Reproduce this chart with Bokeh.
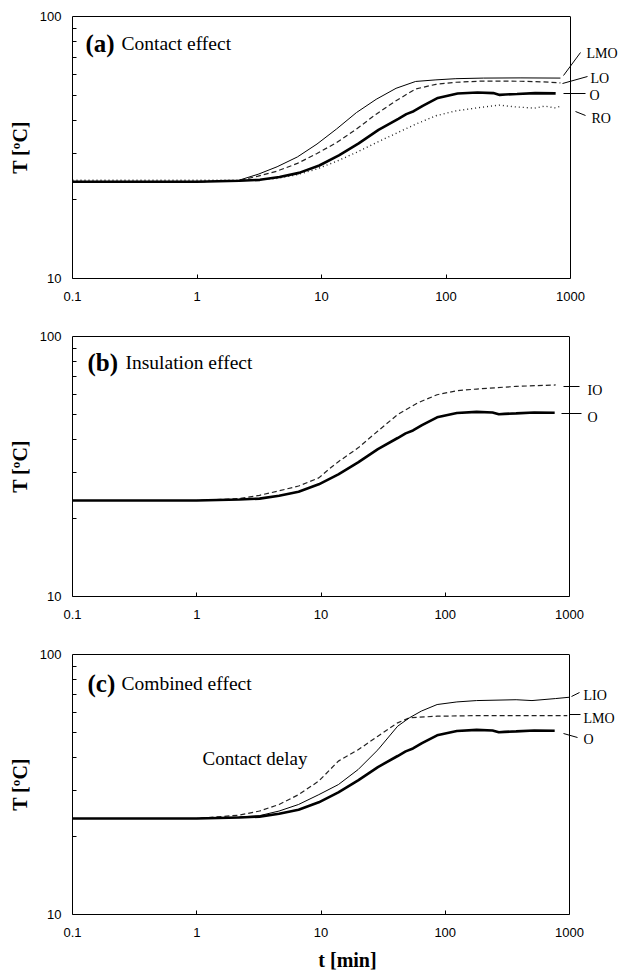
from bokeh.plotting import figure
from bokeh.layouts import column
from bokeh.models import FixedTicker, Label, Arrow, Range1d, Span, LogAxis
from bokeh.embed import file_html
from bokeh.resources import INLINE

# ---------------- data ----------------
xticks = [0.1, 1, 10, 100, 1000]
xtick_labels = ["0.1", "1", "10", "100", "1000"]
yticks = [10, 100]
ytick_labels = ["10", "100"]
yminor = [20, 30, 40, 50, 60, 70, 80, 90]

# O (reference case), used in all panels
t_O = [0.1, 1.0, 2.2, 3.2, 4.6, 6.6, 9.6, 13.8, 19.9, 28.7, 41.4, 48, 55, 65, 86, 124, 179, 240, 270, 300, 372, 520, 760]
T_O = [23.4, 23.4, 23.6, 23.8, 24.4, 25.3, 27.0, 29.5, 32.8, 36.9, 40.7, 42.4, 43.5, 45.6, 48.9, 50.8, 51.3, 51.0, 50.2, 50.4, 50.6, 51.0, 50.9]

# panel (a) contact effect
t_LMO_a = [0.1, 1.0, 2.1, 3.1, 4.4, 6.4, 9.2, 13.2, 19.1, 27.5, 39.7, 57, 83, 120, 200, 400, 830]
T_LMO_a = [23.4, 23.4, 23.6, 25.0, 26.7, 29.1, 32.6, 37.2, 43.0, 48.3, 53.2, 56.5, 57.3, 57.9, 58.2, 58.3, 58.2]
t_LO = [0.1, 1.0, 2.1, 3.1, 4.4, 6.4, 9.2, 13.2, 19.1, 27.5, 39.7, 57, 83, 119, 198, 400, 600, 830]
T_LO = [23.4, 23.4, 23.6, 24.6, 25.7, 27.5, 30.0, 33.0, 37.2, 42.4, 47.7, 52.9, 55.1, 56.1, 56.7, 56.6, 56.3, 55.8]
t_RO = [0.1, 1.0, 2.1, 3.1, 4.4, 6.4, 9.2, 13.2, 19.1, 27.5, 39.7, 57, 83, 119, 172, 267, 357, 516, 620, 745, 830]
T_RO = [23.7, 23.7, 23.7, 23.8, 24.1, 24.9, 26.2, 28.0, 30.3, 33.0, 35.8, 38.8, 41.8, 43.6, 44.7, 45.9, 45.2, 44.7, 45.5, 44.8, 45.4]

# panel (b) insulation effect
t_IO = [0.1, 1.0, 2.2, 3.2, 4.6, 6.6, 9.6, 11.7, 13.8, 19.9, 28.7, 41.4, 59.7, 86, 124, 179, 372, 774]
T_IO = [23.4, 23.4, 23.8, 24.5, 25.5, 26.6, 28.6, 31.0, 33.0, 37.3, 43.3, 50.1, 55.5, 59.7, 61.9, 62.8, 64.3, 65.1]

# panel (c) combined effect
t_LIO = [0.1, 1.0, 2.2, 3.2, 4.6, 6.6, 9.6, 13.8, 19.9, 28.7, 41.4, 51.5, 64.3, 86, 124, 179, 372, 499, 774, 1000]
T_LIO = [23.4, 23.4, 23.7, 24.0, 25.0, 26.5, 28.9, 31.6, 36.1, 43.0, 53.0, 57.1, 60.6, 64.2, 65.7, 66.5, 67.0, 66.5, 67.7, 68.5]
t_LMO_c = [0.1, 1.0, 2.2, 3.2, 4.6, 6.6, 9.6, 13.8, 19.9, 28.7, 41.4, 51.6, 86, 179, 372, 960]
T_LMO_c = [23.4, 23.4, 24.1, 25.0, 26.5, 28.9, 32.6, 38.9, 43.0, 48.5, 54.6, 57.1, 57.9, 58.2, 58.2, 58.2]

# ---------------- layout helpers ----------------
PAGE_W = 620
SERIF = "Liberation Serif"
SANS = "Liberation Sans"


def geom(left, top, w, h):
    # left/top/w/h of the 0.1..1000 x 10..100 box, in page pixels
    return dict(left=left, top=top, w=w, h=h)


def dx(px, g):
    return 10 ** (-1 + 4 * (px - g["left"]) / g["w"])


def dy(py, g):
    return 10 ** (2 - (py - g["top"]) / g["h"])


def make_fig(g, fig_top, bottom_border, xlabel=None):
    bl = g["left"]
    fw = PAGE_W - bl  # frame runs to the right page edge so the side tags show
    xmax = dx(PAGE_W, g)
    p = figure(x_axis_type="log", y_axis_type="log",
               x_range=Range1d(0.1, xmax), y_range=Range1d(10, 100),
               frame_width=fw, frame_height=g["h"],
               min_border_left=bl, min_border_right=0,
               min_border_top=g["top"] - fig_top, min_border_bottom=bottom_border,
               output_backend="svg", toolbar_location=None)
    p.grid.visible = False
    p.outline_line_color = None
    p.background_fill_color = "white"
    p.border_fill_color = "white"

    xa = p.xaxis[0]
    xa.bounds = (0.1, 1000)
    xa.ticker = FixedTicker(ticks=xticks, minor_ticks=[])
    xa.major_label_overrides = {v: s for v, s in zip(xticks, xtick_labels)}
    xa.major_tick_in = 4
    xa.major_tick_out = 0
    xa.major_label_standoff = 13

    ya = p.yaxis[0]
    ya.ticker = FixedTicker(ticks=yticks, minor_ticks=yminor)
    ya.major_label_overrides = {v: s for v, s in zip(yticks, ytick_labels)}
    ya.major_tick_in = 0
    ya.major_tick_out = 0
    ya.minor_tick_in = 4
    ya.minor_tick_out = 0
    ya.major_label_standoff = 11

    for ax in (xa, ya):
        ax.axis_line_color = "black"
        ax.axis_line_width = 1
        ax.major_tick_line_color = "black"
        ax.minor_tick_line_color = "black"
        ax.major_label_text_font = SANS
        ax.major_label_text_font_size = "13px"
        ax.major_label_text_color = "black"

    # top edge of the box
    top = LogAxis(bounds=(0.1, 1000), ticker=FixedTicker(ticks=[], minor_ticks=[]),
                  axis_line_color="black", axis_line_width=1,
                  major_tick_in=0, major_tick_out=0, minor_tick_in=0, minor_tick_out=0,
                  major_label_text_font_size="0px", major_label_standoff=0)
    p.add_layout(top, "above")
    # right edge of the box at t = 1000
    p.add_layout(Span(location=1000, dimension="height", line_color="black", line_width=1))

    ya.axis_label = "T [ºC]"
    ya.axis_label_text_font = SERIF
    ya.axis_label_text_font_style = "bold"
    ya.axis_label_text_font_size = "20px"
    ya.axis_label_text_color = "black"
    ya.axis_label_standoff = 6

    if xlabel:
        xa.axis_label = xlabel
        xa.axis_label_text_font = SERIF
        xa.axis_label_text_font_style = "bold"
        xa.axis_label_text_font_size = "20px"
        xa.axis_label_text_color = "black"
        xa.axis_label_standoff = 9
    return p


def title(p, g, letter, text, base_y, x_letter, x_text):
    p.add_layout(Label(x=dx(x_letter, g), y=dy(base_y, g), text=letter,
                       text_font=SERIF, text_font_style="bold", text_font_size="25px",
                       text_baseline="alphabetic", text_align="left", text_color="black"))
    p.add_layout(Label(x=dx(x_text, g), y=dy(base_y, g), text=text,
                       text_font=SERIF, text_font_size="19.5px",
                       text_baseline="alphabetic", text_align="left", text_color="black"))


def tag(p, g, text, line, lx, ly):
    (x0, y0), (x1, y1) = line
    p.add_layout(Arrow(end=None, x_start=dx(x0, g), y_start=dy(y0, g),
                       x_end=dx(x1, g), y_end=dy(y1, g),
                       line_color="black", line_width=1))
    p.add_layout(Label(x=dx(lx, g), y=dy(ly, g), text=text,
                       text_font=SERIF, text_font_size="14px",
                       text_baseline="middle", text_align="left", text_color="black"))


# ---------------- panel (a) ----------------
ga = geom(72, 16, 498, 262)
pa = make_fig(ga, 0, 30)
pa.line(t_LMO_a, T_LMO_a, line_color="black", line_width=1)
pa.line(t_LO, T_LO, line_color="#222222", line_width=1.2, line_dash="5 3")
pa.line(t_RO, T_RO, line_color="#222222", line_width=1.4, line_dash="1 3")
pa.line(t_O, T_O, line_color="black", line_width=2.6)
title(pa, ga, "(a)", "Contact effect", 43, 85, 121)
tag(pa, ga, "LMO", ((563, 75), (580, 52)), 586, 53)
tag(pa, ga, "LO", ((562, 83), (587, 76)), 590, 78)
tag(pa, ga, "O", ((563, 93), (585, 93)), 589, 95)
tag(pa, ga, "RO", ((575, 111), (585, 115)), 591, 118)

# ---------------- panel (b) ----------------
gb = geom(70, 336, 497, 260)
pb = make_fig(gb, 308, 30)
pb.line(t_IO, T_IO, line_color="#222222", line_width=1.2, line_dash="5 3")
pb.line(t_O, T_O, line_color="black", line_width=2.6)
title(pb, gb, "(b)", "Insulation effect", 362, 85, 123)
tag(pb, gb, "IO", ((561, 386), (577, 386)), 585, 390)
tag(pb, gb, "O", ((559, 413), (579, 413)), 585, 417)

# ---------------- panel (c) ----------------
gc = geom(70, 654, 497, 260)
pc = make_fig(gc, 626, 59, xlabel="t [min]")
pc.line(t_LMO_c, T_LMO_c, line_color="#222222", line_width=1.2, line_dash="5 3")
pc.line(t_LIO, T_LIO, line_color="black", line_width=1)
pc.line(t_O, T_O, line_color="black", line_width=2.6)
title(pc, gc, "(c)", "Combined effect", 683, 85, 119)
tag(pc, gc, "LIO", ((569, 696), (577, 692)), 581, 695)
tag(pc, gc, "LMO", ((567, 714), (578, 714)), 581, 718)
tag(pc, gc, "O", ((561, 733), (575, 737)), 581, 739)
pc.add_layout(Label(x=dx(200, gc), y=dy(758, gc), text="Contact delay",
                    text_font=SERIF, text_font_size="19px",
                    text_baseline="middle", text_align="left", text_color="black"))

layout = column(pa, pb, pc, spacing=0)
open("out.html", "w").write(file_html(layout, INLINE))
